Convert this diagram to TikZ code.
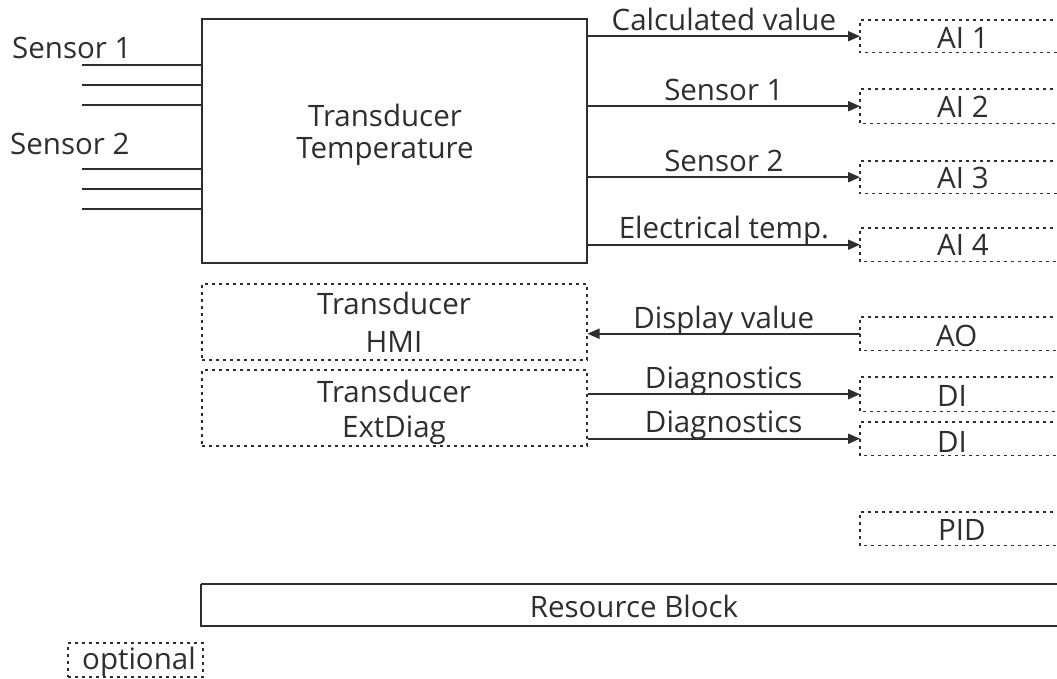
\documentclass[tikz,border=0pt]{standalone}
\usepackage{fontspec}
\setmainfont{Open Sans}
\usetikzlibrary{arrows.meta,calc}
\definecolor{ink}{HTML}{2E2E2E}
\begin{document}
\begin{tikzpicture}[x=1pt,y=-1pt,
  optline/.style={draw=ink, line width=1.5pt, dash pattern=on 3pt off 4pt},
  optbox/.style={optline, rectangle, inner sep=0pt, anchor=north west},
  openbox/.style={rectangle, inner sep=0pt, anchor=north west, minimum width=200pt},
  solidbox/.style={draw=ink, line width=1.8pt, rectangle, inner sep=0pt, anchor=north west},
  txt/.style={text=ink, font=\fontsize{29.5}{34}\selectfont, inner sep=0pt},
  flow/.style={draw=ink, line width=1.8pt, -{Triangle[length=12pt,width=10pt]}},
  wire/.style={draw=ink, line width=1.8pt}]
\path[use as bounding box] (0,0) rectangle (1057,678);
\clip (0,0) rectangle (1057,678);

% main blocks
\node[solidbox, minimum width=385pt, minimum height=244pt] (main) at (201,18) {};
\node[txt, anchor=base] (mt1) at (385,126) {Transducer};
\node[txt, anchor=base] (mt2) at (385,158) {Temperature};
\node[optbox, minimum width=385pt, minimum height=76pt] (hmi) at (201,283) {};
\node[txt, anchor=base] (ht1) at (394,314) {Transducer};
\node[txt, anchor=base] (ht2) at (394,352) {HMI};
\node[optbox, minimum width=385pt, minimum height=76pt] (ext) at (201,369) {};
\node[txt, anchor=base] (et1) at (394,402) {Transducer};
\node[txt, anchor=base] (et2) at (394,437) {ExtDiag};
\draw[draw=ink, line width=1.8pt] (201,584) -- (1060,584) (201,584) -- (201,626) -- (1060,626);
\node[rectangle, inner sep=0pt, anchor=north west, minimum width=859pt, minimum height=42pt] (res) at (201,584) {};
\node[txt, anchor=base] (restxt) at (634,617) {Resource Block};

% function blocks on the right (open towards the right edge)
\node[openbox, minimum height=32pt] (ai1) at (860,20) {};
\node[openbox, minimum height=34pt] (ai2) at (860,89) {};
\node[openbox, minimum height=32pt] (ai3) at (860,161) {};
\node[openbox, minimum height=33pt] (ai4) at (860,228) {};
\node[openbox, minimum height=33pt] (ao) at (860,317) {};
\node[openbox, minimum height=34pt] (di1) at (860,377) {};
\node[openbox, minimum height=33pt] (di2) at (860,422) {};
\node[openbox, minimum height=33pt] (pid) at (860,512) {};
\foreach \b in {ai1,ai2,ai3,ai4,ao,di1,di2,pid}{
  \draw[optline] (\b.north east) -- (\b.north west) -- (\b.south west) -- (\b.south east);
}
\node[txt, anchor=base west] (ai1t) at (937,48) {AI 1};
\node[txt, anchor=base west] (ai2t) at (937,117) {AI 2};
\node[txt, anchor=base west] (ai3t) at (937,188) {AI 3};
\node[txt, anchor=base west] (ai4t) at (937,255) {AI 4};
\node[txt, anchor=base west] (aot) at (936,346) {AO};
\node[txt, anchor=base west] (di1t) at (937,406) {DI};
\node[txt, anchor=base west] (di2t) at (937,452) {DI};
\node[txt, anchor=base west] (pidt) at (938,540) {PID};

% legend
\node[optbox, minimum width=135pt, minimum height=34pt] (leg) at (67,642) {};
\node[txt, anchor=base] (legt) at (139,669) {optional};

% sensors
\node[txt, anchor=base west] (s1) at (12,58) {Sensor 1};
\node[txt, anchor=base west] (s2) at (10,154) {Sensor 2};
\foreach \yy/\nm in {65/a,85/b,105/c,169/d,189/e,209/f}{
  \coordinate (w\nm) at (82,\yy);
  \draw[wire] (w\nm) -- (w\nm -| main.west);
}

% outputs
\foreach \b/\t in {ai1/Calculated value, ai2/Sensor 1, ai3/Sensor 2, ai4/Electrical temp.}{
  \draw[flow] (main.east |- \b.west) -- (\b.west);
  \node[txt, anchor=base] at ($(main.east |- \b.west)!0.5!(\b.west)+(0,-6)$) {\t};
}
\draw[flow] (ao.west) -- (hmi.east |- ao.west);
\node[txt, anchor=base] at ($(hmi.east |- ao.west)!0.5!(ao.west)+(0,-5)$) {Display value};
\foreach \b in {di1,di2}{
  \draw[flow] (ext.east |- \b.west) -- (\b.west);
  \node[txt, anchor=base] at ($(ext.east |- \b.west)!0.5!(\b.west)+(0,-6)$) {Diagnostics};
}
\end{tikzpicture}
\end{document}
